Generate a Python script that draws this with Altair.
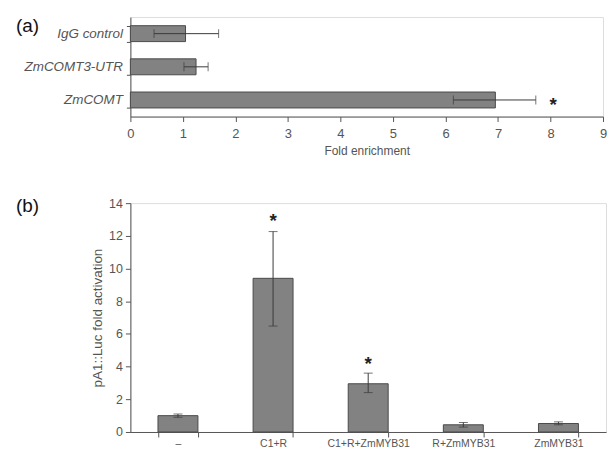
import altair as alt
import pandas as pd

FONT = "Liberation Sans Narrow, Liberation Sans, Arial, sans-serif"

# ---- panel (a) data ----
a_categories = ["IgG control", "ZmCOMT3-UTR", "ZmCOMT"]
a_values = [1.05, 1.25, 6.95]
a_err_low = [0.45, 1.02, 6.15]
a_err_high = [1.68, 1.48, 7.72]
a_star_cats = ["ZmCOMT"]
a_star_pos = [8.05]

# ---- panel (b) data ----
b_categories = ["–", "C1+R", "C1+R+ZmMYB31", "R+ZmMYB31", "ZmMYB31"]
b_values = [1.0, 9.4, 2.95, 0.44, 0.52]
b_err_low = [0.9, 6.48, 2.41, 0.3, 0.44]
b_err_high = [1.1, 12.26, 3.6, 0.58, 0.62]
b_star_cats = ["C1+R", "C1+R+ZmMYB31"]
b_star_pos = [13.2, 4.45]

a_df = pd.DataFrame({"cat": a_categories, "val": a_values, "lo": a_err_low, "hi": a_err_high})
a_star_df = pd.DataFrame({"cat": a_star_cats, "pos": a_star_pos})
b_df = pd.DataFrame({"cat": b_categories, "val": b_values, "lo": b_err_low, "hi": b_err_high})
b_star_df = pd.DataFrame({"cat": b_star_cats, "pos": b_star_pos})

BAR_FILL = "#828282"
BAR_STROKE = "#4a4a4a"
ERR = "#3a3a3a"
TXT = "#555555"

# ---------- panel (a) ----------
a_cat_scale = alt.Scale(domain=a_categories, paddingInner=0.52, paddingOuter=0.26)
a_val_scale = alt.Scale(domain=[0, 9], nice=False)
a_cat_axis = alt.Axis(title=None, labelFontStyle="italic", labelFontSize=13.5, labelFont=FONT,
                      labelColor=TXT, tickBand="extent", tickSize=4, tickColor="#555",
                      domainColor="#555", labelPadding=4)
a_val_axis = alt.Axis(title="Fold enrichment", values=list(range(10)), format="d",
                      labelFontSize=13, labelFont=FONT, labelColor=TXT, tickSize=5,
                      labelPadding=6, labelOverlap=False, labelFlush=False,
                      titleFont=FONT, titleFontSize=12,
                      titleFontWeight="normal", titleColor=TXT, titlePadding=5,
                      grid=False, tickColor="#555", domainColor="#555")


def a_y():
    return alt.Y("cat:N", sort=a_categories, scale=a_cat_scale, axis=a_cat_axis)


def a_x(field):
    return alt.X(field, type="quantitative", scale=a_val_scale, axis=a_val_axis)


base_a = alt.Chart(a_df)
bars_a = base_a.mark_bar(color=BAR_FILL, stroke=BAR_STROKE, strokeWidth=1).encode(y=a_y(), x=a_x("val"))
err_a = base_a.mark_rule(color=ERR, strokeWidth=1).encode(y=a_y(), x=a_x("lo"), x2="hi:Q")
cap_lo_a = base_a.mark_tick(color=ERR, size=9, thickness=1).encode(y=a_y(), x=a_x("lo"))
cap_hi_a = base_a.mark_tick(color=ERR, size=9, thickness=1).encode(y=a_y(), x=a_x("hi"))
star_a = alt.Chart(a_star_df).mark_text(text="*", fontSize=19, fontWeight="bold", color="#222",
                                        font="Liberation Sans", baseline="middle", dy=5).encode(
    y=a_y(), x=a_x("pos"))
label_a = alt.Chart(pd.DataFrame({"t": ["(a)"]})).mark_text(
    align="left", baseline="middle", fontSize=19, font="Liberation Sans", color="#111").encode(
    text="t:N", x=alt.value(-115), y=alt.value(9))
# transparent spacer so the plot area starts at the same left offset as the original
spacer_a = alt.Chart(pd.DataFrame({"t": ["s"]})).mark_rule(strokeOpacity=0).encode(
    x=alt.value(-122), x2=alt.value(-118), y=alt.value(50))

panel_a = alt.layer(bars_a, err_a, cap_lo_a, cap_hi_a, star_a, label_a, spacer_a).properties(
    width=475, height=100)

# ---------- panel (b) ----------
b_cat_scale = alt.Scale(domain=b_categories, paddingInner=0.58, paddingOuter=0.29)
b_val_scale = alt.Scale(domain=[0, 14], nice=False)
b_cat_axis = alt.Axis(title=None, labelAngle=0, labelFontSize=10.5, labelFont=FONT,
                      labelColor=TXT, tickBand="extent", tickSize=5, labelPadding=2,
                      labelOverlap=False, tickColor="#555", domainColor="#555")
b_val_axis = alt.Axis(title="pA1::Luc fold activation", values=list(range(0, 15, 2)),
                      tickCount=8, labelFontSize=12.5, labelFont=FONT, labelColor=TXT, tickSize=5,
                      labelPadding=3, labelOverlap=False, titleFont=FONT, titleFontSize=13.5,
                      titleFontWeight="normal", titleColor=TXT, titlePadding=4,
                      grid=False, tickColor="#555", domainColor="#555")


def b_x():
    return alt.X("cat:N", sort=b_categories, scale=b_cat_scale, axis=b_cat_axis)


def b_y(field):
    return alt.Y(field, type="quantitative", scale=b_val_scale, axis=b_val_axis)


base_b = alt.Chart(b_df)
bars_b = base_b.mark_bar(color=BAR_FILL, stroke=BAR_STROKE, strokeWidth=1).encode(x=b_x(), y=b_y("val"))
err_b = base_b.mark_rule(color=ERR, strokeWidth=1).encode(x=b_x(), y=b_y("lo"), y2="hi:Q")
cap_lo_b = base_b.mark_tick(color=ERR, size=9, thickness=1).encode(x=b_x(), y=b_y("lo"))
cap_hi_b = base_b.mark_tick(color=ERR, size=9, thickness=1).encode(x=b_x(), y=b_y("hi"))
star_b = alt.Chart(b_star_df).mark_text(text="*", fontSize=19, fontWeight="bold", color="#222",
                                        font="Liberation Sans", baseline="middle", dy=5).encode(
    x=b_x(), y=b_y("pos"))
label_b = alt.Chart(pd.DataFrame({"t": ["(b)"]})).mark_text(
    align="left", baseline="middle", fontSize=19, font="Liberation Sans", color="#111").encode(
    text="t:N", x=alt.value(-115), y=alt.value(3))

panel_b = alt.layer(bars_b, err_b, cap_lo_b, cap_hi_b, star_b, label_b).properties(width=478, height=230)

chart = alt.vconcat(panel_a, panel_b, spacing=87, bounds="flush").properties(
    padding={"left": 0, "right": 0, "top": 0, "bottom": 0}
).configure_view(stroke=None).configure(background="white")

chart.save("out.html", embed_options={"renderer": "svg", "actions": False})
